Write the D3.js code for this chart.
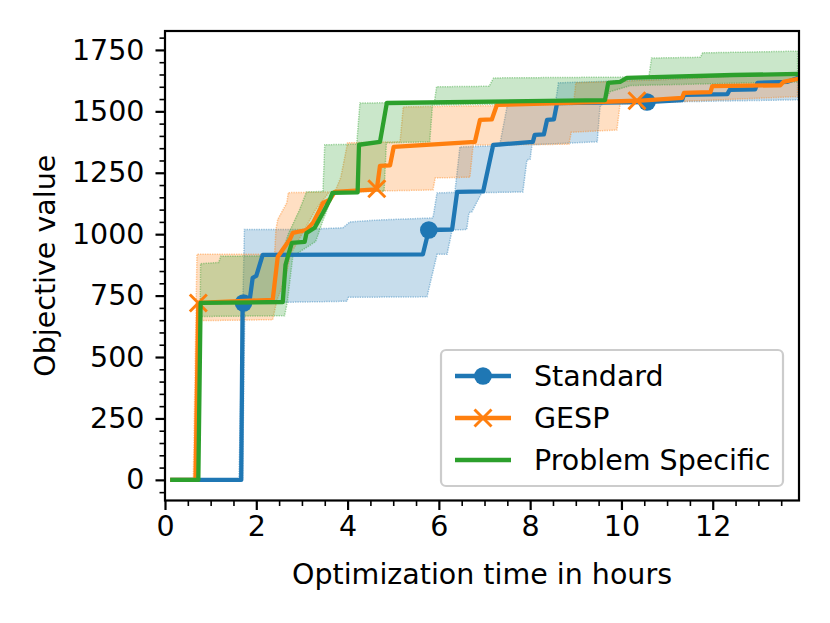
<!DOCTYPE html>
<html>
<head>
<meta charset="utf-8">
<script src="https://cdn.jsdelivr.net/npm/d3@7"></script>
<style>
  body { margin: 0; background: #fff; }
  svg { display: block; font-family: "DejaVu Sans", sans-serif; }
</style>
</head>
<body>
<svg width="830" height="623"></svg>
<script>
// mean curves, [hours, objective]
const standardMean = [[0.16,0],[1.67,0],[1.70,720],[1.72,720],[1.85,724],[1.92,822],[2.0,830],[2.14,916],[5.65,918],[5.78,1017],[6.29,1019],[6.40,1172],[6.97,1174],[7.19,1363],[8.06,1376],[8.10,1404],[8.30,1406],[8.37,1465],[8.52,1467],[8.59,1534],[10.56,1538],[11.33,1546],[11.37,1567],[12.32,1570],[12.37,1587],[12.93,1590],[12.98,1616],[13.64,1620],[13.86,1636]];
const gespMean = [[0.16,0],[0.67,0],[0.73,720],[2.36,733],[2.47,908],[2.73,977],[2.80,1005],[3.10,1017],[3.24,1046],[3.39,1099],[3.46,1127],[3.61,1140],[3.72,1172],[4.64,1182],[4.71,1278],[4.93,1280],[5.01,1355],[6.79,1376],[6.90,1465],[7.16,1467],[7.27,1526],[10.34,1543],[11.33,1555],[11.37,1575],[11.95,1578],[11.99,1603],[13.48,1606],[13.55,1620],[13.86,1632]];
const specificMean = [[0.16,0],[0.73,0],[0.78,720],[2.58,724],[2.64,875],[2.69,908],[2.78,965],[3.06,969],[3.10,1005],[3.28,1026],[3.35,1050],[3.46,1087],[3.61,1140],[3.67,1168],[4.22,1170],[4.25,1364],[4.71,1376],[4.86,1534],[9.64,1546],[9.71,1616],[9.97,1620],[10.12,1636],[12.45,1648],[13.86,1652]];

// spread bands
const standardLower = [[0.16,0],[1.70,0],[1.75,720],[3.98,727],[4.02,743],[5.74,745],[5.96,918],[6.18,918],[6.29,1017],[6.61,1019],[6.66,1088],[6.72,1090],[6.94,1169],[7.84,1172],[7.93,1303],[8.0,1305],[8.04,1364],[9.47,1376],[9.53,1518],[9.60,1534],[13.86,1547]];
const standardUpper = [[0.16,0],[1.62,0],[1.74,1019],[3.0,1019],[3.9,1026],[4.05,1050],[4.7,1058],[5.87,1066],[5.96,1168],[6.35,1170],[6.46,1355],[7.33,1360],[7.5,1526],[8.55,1530],[8.62,1616],[11.0,1630],[13.86,1656]];
const gespLower = [[0.16,0],[0.67,0],[0.76,648],[2.36,652],[2.45,730],[2.65,830],[2.75,918],[3.0,1000],[3.3,1100],[3.6,1172],[5.87,1180],[5.92,1229],[6.68,1232],[6.75,1363],[8.85,1366],[8.90,1415],[9.90,1424],[9.97,1530],[13.86,1560]];
const gespUpper = [[0.16,0],[0.62,0],[0.70,918],[2.40,918],[2.43,1019],[2.47,1060],[2.67,1128],[2.70,1169],[3.72,1172],[3.85,1230],[4.0,1372],[5.15,1376],[5.22,1518],[8.95,1528],[9.0,1616],[11.0,1630],[13.86,1656]];
const specificLower = [[0.16,0],[0.73,0],[0.78,665],[2.62,668],[2.68,724],[2.80,910],[3.30,970],[3.45,1050],[3.70,1172],[4.80,1175],[4.85,1372],[5.80,1376],[5.86,1526],[9.60,1534],[9.75,1580],[10.2,1605],[13.86,1620]];
const specificUpper = [[0.16,0],[0.73,0],[0.78,880],[1.18,885],[1.22,910],[2.55,912],[2.70,1000],[2.95,1100],[3.10,1172],[3.46,1174],[3.50,1364],[4.20,1366],[4.27,1534],[5.90,1536],[5.95,1600],[7.10,1602],[7.20,1636],[10.60,1640],[10.66,1717],[11.73,1720],[11.78,1738],[13.86,1745]];

// marker positions
const standardMarkers = [[1.72,720],[5.78,1017],[10.56,1538]];
const gespMarkers = [[0.73,720],[4.64,1185],[10.34,1543]];

const seriesNames = ["Standard", "GESP", "Problem Specific"];
const colors = ["#1f77b4", "#ff7f0e", "#2ca02c"];
const xTicks = [0, 2, 4, 6, 8, 10, 12];
const yTicks = [0, 250, 500, 750, 1000, 1250, 1500, 1750];

const series = [
  { name: seriesNames[0], color: colors[0], mean: standardMean, lo: standardLower, hi: standardUpper, markers: standardMarkers, marker: "o" },
  { name: seriesNames[1], color: colors[1], mean: gespMean, lo: gespLower, hi: gespUpper, markers: gespMarkers, marker: "x" },
  { name: seriesNames[2], color: colors[2], mean: specificMean, lo: specificLower, hi: specificUpper, markers: [], marker: null }
];

const L = 165, R = 799, T = 31, B = 500.5;
const fs = 28.5;
const lw = 4.3;

const x = d3.scaleLinear().domain([0, 13.89]).range([L, R]);
const y = d3.scaleLinear().domain([-84, 1827]).range([B, T]);

const svg = d3.select("svg");

svg.append("defs").append("clipPath").attr("id", "plotclip")
  .append("rect").attr("x", L).attr("y", T).attr("width", R - L).attr("height", B - T);

const plot = svg.append("g").attr("clip-path", "url(#plotclip)");

// bands: polygon from upper then reversed lower
function bandPath(hi, lo) {
  const pts = hi.map(d => [x(d[0]), y(d[1])])
    .concat(lo.slice().reverse().map(d => [x(d[0]), y(d[1])]));
  return "M" + pts.map(p => p.join(",")).join("L") + "Z";
}

series.forEach(s => {
  plot.append("path")
    .attr("d", bandPath(s.hi, s.lo))
    .attr("fill", s.color)
    .attr("fill-opacity", 0.25)
    .attr("stroke", s.color)
    .attr("stroke-opacity", 0.4)
    .attr("stroke-width", 1.5)
    .attr("stroke-dasharray", "1.4,1");
});

const line = d3.line().x(d => x(d[0])).y(d => y(d[1]));

function drawMarker(g, kind, color, cx, cy) {
  if (kind === "o") {
    g.append("circle").attr("cx", cx).attr("cy", cy).attr("r", 8.8).attr("fill", color);
  } else if (kind === "x") {
    const r = 8.5;
    g.append("path")
      .attr("d", `M${cx - r},${cy - r}L${cx + r},${cy + r}M${cx - r},${cy + r}L${cx + r},${cy - r}`)
      .attr("stroke", color).attr("stroke-width", 2.9).attr("fill", "none");
  }
}

series.forEach(s => {
  plot.append("path")
    .datum(s.mean)
    .attr("d", line)
    .attr("fill", "none")
    .attr("stroke", s.color)
    .attr("stroke-width", lw)
    .attr("stroke-linejoin", "round")
    .attr("stroke-linecap", "square");
  s.markers.forEach(m => drawMarker(plot, s.marker, s.color, x(m[0]), y(m[1])));
});

// axes
const xAxis = d3.axisBottom(x).tickValues(xTicks).tickSize(9.5).tickPadding(6).tickFormat(d3.format("d"));
const xMinor = d3.axisBottom(x).tickValues(d3.range(0.5, 13.9, 0.5).filter(v => v % 2 !== 0)).tickSize(5.5).tickFormat("");
const yAxis = d3.axisLeft(y).tickValues(yTicks).tickSize(9.5).tickPadding(11).tickFormat(d3.format("d"));
const yMinor = d3.axisLeft(y).tickValues(d3.range(-50, 1827, 50).filter(v => v % 250 !== 0)).tickSize(5.5).tickFormat("");

function styleAxis(g, w) {
  g.select(".domain").remove();
  g.selectAll(".tick line").attr("stroke", "#000").attr("stroke-width", w);
  g.selectAll(".tick text").attr("fill", "#000").style("font-size", fs + "px").style("font-family", "DejaVu Sans");
}

svg.append("g").attr("transform", `translate(0,${B})`).call(xMinor).call(g => styleAxis(g, 1.6));
svg.append("g").attr("transform", `translate(0,${B})`).call(xAxis).call(g => styleAxis(g, 2.2));
svg.append("g").attr("transform", `translate(${L},0)`).call(yMinor).call(g => styleAxis(g, 1.6));
svg.append("g").attr("transform", `translate(${L},0)`).call(yAxis).call(g => styleAxis(g, 2.2));

// spines
svg.append("rect").attr("x", L).attr("y", T).attr("width", R - L).attr("height", B - T)
  .attr("fill", "none").attr("stroke", "#000").attr("stroke-width", 2.2);

// labels
svg.append("text").attr("x", (L + R) / 2).attr("y", 584).attr("text-anchor", "middle")
  .style("font-size", fs + "px").text("Optimization time in hours");
svg.append("text").attr("transform", `translate(55,${(T + B) / 2}) rotate(-90)`).attr("text-anchor", "middle")
  .style("font-size", fs + "px").text("Objective value");

// legend
const lg = svg.append("g");
lg.append("rect").attr("x", 441).attr("y", 350).attr("width", 342).attr("height", 136).attr("rx", 5)
  .attr("fill", "#fff").attr("fill-opacity", 0.8).attr("stroke", "#cccccc").attr("stroke-width", 2.2);
series.forEach((s, i) => {
  const cy = 376 + i * 42;
  lg.append("line").attr("x1", 455).attr("x2", 511).attr("y1", cy).attr("y2", cy)
    .attr("stroke", s.color).attr("stroke-width", lw);
  if (s.marker) drawMarker(lg, s.marker, s.color, 483, cy);
  lg.append("text").attr("x", 534).attr("y", cy + 10).style("font-size", fs + "px").text(s.name);
});
</script>
</body>
</html>
